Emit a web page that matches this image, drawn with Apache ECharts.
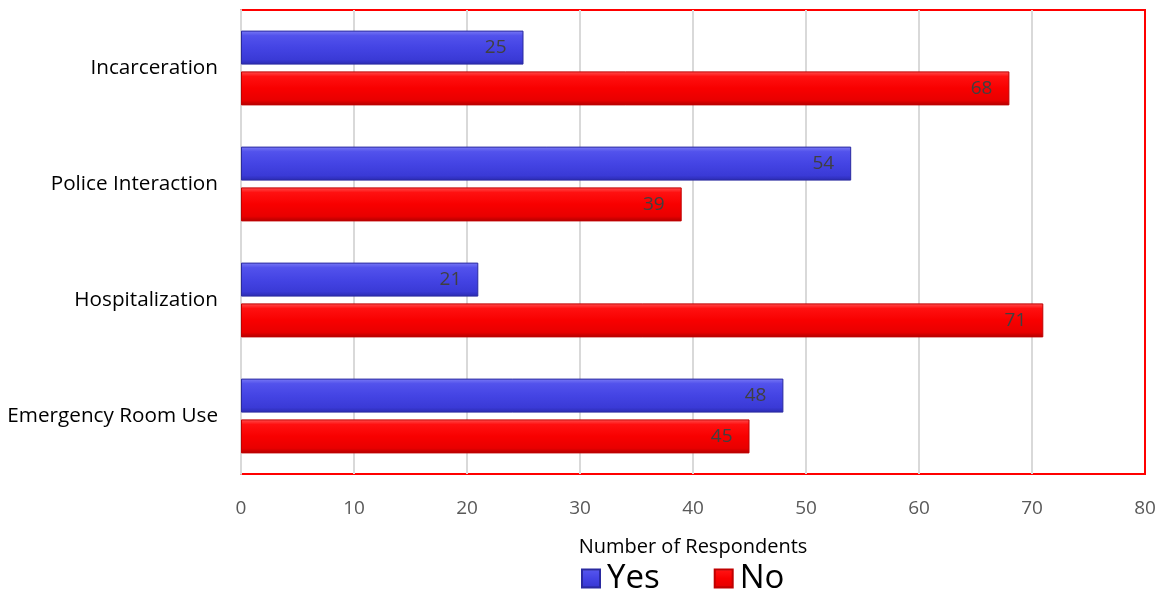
<!DOCTYPE html>
<html><head><meta charset="utf-8">
<script src="https://cdn.jsdelivr.net/npm/echarts@6/dist/echarts.min.js"></script>
<style>html,body{margin:0;padding:0;background:#fff}#c{width:1165px;height:598px}</style>
</head><body><div id="c"></div>
<script>
const categories = ['Emergency Room Use', 'Hospitalization', 'Police Interaction', 'Incarceration'];
const yesValues = [48, 21, 54, 25];
const noValues = [45, 71, 39, 68];
const xTicks = [0, 10, 20, 30, 40, 50, 60, 70, 80];

const FONT = '"Open Sans", Lato, sans-serif';
const blueGrad = {type:'linear',x:0,y:0,x2:0,y2:1,colorStops:[
  {offset:0,color:'#7a7af5'},{offset:0.15,color:'#5252ec'},{offset:0.5,color:'#4444e4'},{offset:0.85,color:'#3a3ad6'},{offset:1,color:'#2a2ab0'}]};
const redGrad = {type:'linear',x:0,y:0,x2:0,y2:1,colorStops:[
  {offset:0,color:'#ff5050'},{offset:0.15,color:'#ff1010'},{offset:0.5,color:'#f80000'},{offset:0.85,color:'#e80000'},{offset:1,color:'#b00000'}]};

const gridColors = xTicks.map((t, i) => i === xTicks.length - 1 ? '#ff0000' : '#d9d9d9');

const chart = echarts.init(document.getElementById('c'), null, {renderer:'canvas'});
chart.setOption({
  animation:false,
  textStyle:{fontFamily:FONT},
  grid:{left:241, right:20, top:10, bottom:124, show:true, borderColor:'#ff0000', borderWidth:2, backgroundColor:'transparent'},
  legend:{
    data:['Yes','No'], top:557, left:576, itemWidth:18, itemHeight:18, itemGap:54,
    icon:'rect',
    textStyle:{fontSize:33, color:'#000', fontFamily:FONT, padding:[0,0,0,2]}
  },
  xAxis:{
    type:'value', min:xTicks[0], max:xTicks[xTicks.length-1], interval:10,
    name:'Number of Respondents', nameLocation:'middle', nameGap:63,
    nameTextStyle:{fontSize:20, color:'#000', fontFamily:FONT},
    axisLine:{show:false}, axisTick:{show:false},
    axisLabel:{fontSize:19, color:'#595959', margin:25, fontFamily:FONT},
    splitLine:{show:true, lineStyle:{color:gridColors, width:2}}
  },
  yAxis:{
    type:'category', data:categories,
    axisLine:{show:true, lineStyle:{color:'#d9d9d9', width:2}},
    axisTick:{show:false},
    axisLabel:{fontSize:20.7, color:'#000', margin:23, fontFamily:FONT}
  },
  series:[
    {name:'Yes', type:'bar', data:yesValues, barWidth:34, barGap:'20%', barCategoryGap:'36%',
     itemStyle:{color:blueGrad, borderColor:'#2a2aa0', borderWidth:1},
     label:{show:true, position:'insideRight', distance:17, fontSize:19, color:'#404040', fontFamily:FONT}},
    {name:'No', type:'bar', data:noValues, barWidth:34, barGap:'20%', barCategoryGap:'36%',
     itemStyle:{color:redGrad, borderColor:'#c00000', borderWidth:1},
     label:{show:true, position:'insideRight', distance:17, fontSize:19, color:'#404040', fontFamily:FONT}}
  ]
});
</script></body></html>
